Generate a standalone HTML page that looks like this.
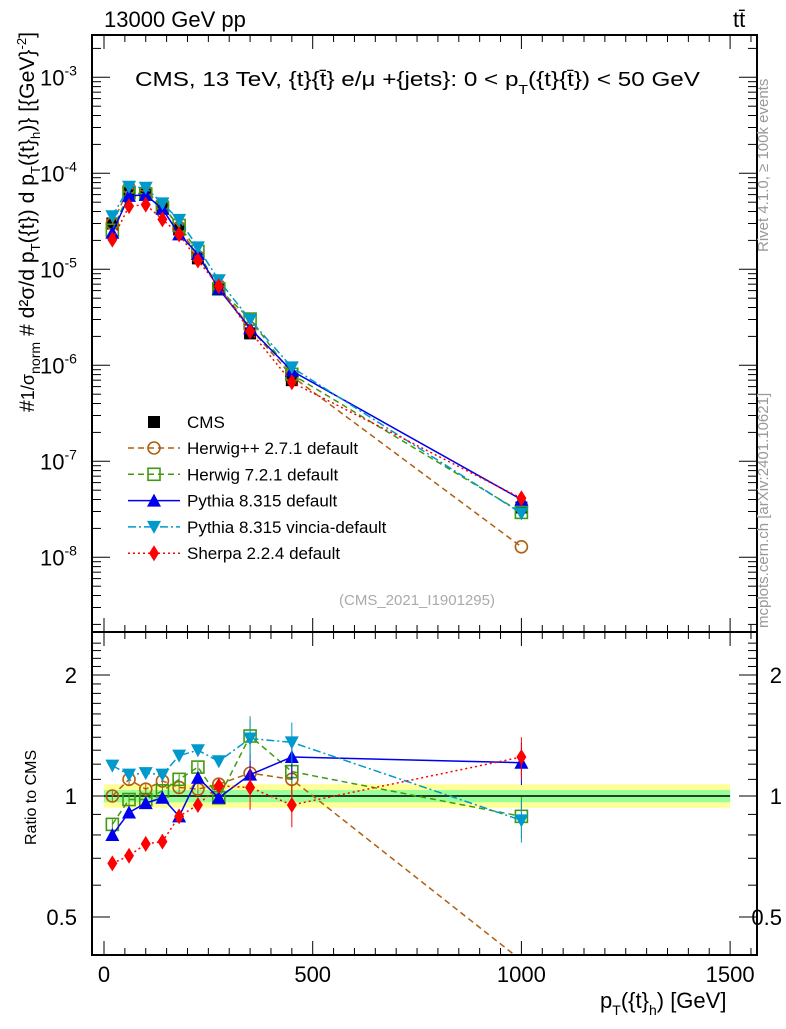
<!DOCTYPE html>
<html><head><meta charset="utf-8"><style>
body{margin:0;background:#fff;width:786px;height:1024px;overflow:hidden}
svg text{font-family:"Liberation Sans",sans-serif}
</style></head><body>
<svg id="c" width="786" height="1024" xmlns="http://www.w3.org/2000/svg"></svg>
<script>
const xCenters=[20,60,100,140,180,225,275,350,450,1000];
const cmsVals=[3.0e-5,6.4e-5,6.2e-5,4.3e-5,2.6e-5,1.3e-5,6.3e-6,2.15e-6,7.0e-7,3.3e-8];
const herwigppRatio=[1.00,1.10,1.04,1.09,1.05,1.04,1.07,1.14,1.10,0.39];
const herwig7Ratio=[0.85,0.98,0.98,1.03,1.10,1.18,0.99,1.41,1.15,0.89];
const pythiaRatio=[0.80,0.91,0.96,0.99,0.89,1.11,0.99,1.13,1.25,1.21];
const vinciaRatio=[1.19,1.13,1.14,1.13,1.26,1.30,1.22,1.39,1.36,0.87];
const sherpaRatio=[0.68,0.71,0.76,0.77,0.89,0.95,1.06,1.05,0.95,1.25];
const xTicks=[0,500,1000,1500];
const mainTicks=[-3,-4,-5,-6,-7,-8];
const ratioTicks=[0.5,1,2];
const legendLabels=["Herwig++ 2.7.1 default","Herwig 7.2.1 default","Pythia 8.315 default","Pythia 8.315 vincia-default","Sherpa 2.2.4 default"];

const L=92,R=757,T=35,MB=632,RB=955;
const X=v=>104+v*0.4174;
const Y=v=>173.3-96*(Math.log10(v)+4);
const YR=r=>796-402*Math.log10(r);
const NS="http://www.w3.org/2000/svg";
const svg=document.getElementById('c');
function mk(tag,attrs,parent){const e=document.createElementNS(NS,tag);for(const k in attrs)e.setAttribute(k,attrs[k]);(parent||svg).appendChild(e);return e;}
function txt(s,x,y,attrs,parent){const e=mk('text',Object.assign({x:x,y:y,'font-size':20},attrs||{}),parent);e.textContent=s;return e;}
function ts(parent,s,attrs){const e=mk('tspan',attrs||{},parent);e.textContent=s;return e;}

let band=mk('rect',{x:X(0),y:YR(1.07),width:X(1500)-X(0),height:YR(0.935)-YR(1.07),fill:'#ffff99'});

let band2=mk('rect',{x:X(0),y:YR(1.035),width:X(1500)-X(0),height:YR(0.965)-YR(1.035),fill:'#99ff99'});

let one=mk('line',{x1:X(0),x2:X(1500),y1:YR(1),y2:YR(1),stroke:'#000','stroke-width':1.5});


let f1=mk('rect',{x:L,y:T,width:R-L,height:MB-T,fill:'none',stroke:'#000','stroke-width':2});

let f2=mk('rect',{x:L,y:MB,width:R-L,height:RB-MB,fill:'none',stroke:'#000','stroke-width':2});


for(let v=0;v<=1550;v+=50){const big=v%500===0;const x=X(v);if(x<L||x>R)continue;
 for(const [a,b] of [[T,MB],[MB,RB]]){
  mk('line',{x1:x,x2:x,y1:b,y2:b-(big?14:7),stroke:'#000'});
  mk('line',{x1:x,x2:x,y1:a,y2:a+(big?14:7),stroke:'#000'});}}
xTicks.forEach(v=>{const t=txt(String(v),X(v),982,{'text-anchor':'middle','font-size':22});
 });
for(let d=-9;d<=-3;d++){for(let m=1;m<10;m++){const y=Y(m*Math.pow(10,d));if(y<T||y>MB)continue;
 const w=m===1?18:9;mk('line',{x1:L,x2:L+w,y1:y,y2:y,stroke:'#000'});mk('line',{x1:R,x2:R-w,y1:y,y2:y,stroke:'#000'});}}
mainTicks.forEach(d=>{const t=txt('10',40,Y(Math.pow(10,d))+8,{'font-size':22});
 
 ts(t,String(d),{dy:-10,'font-size':14});});
for(let r=0.4;r<=2.41;r+=0.1){const y=YR(r);if(y<MB||y>RB)continue;const big=Math.abs(r-0.5)<1e-6||Math.abs(r-1)<1e-6||Math.abs(r-2)<1e-6;
 const w=big?18:9;mk('line',{x1:L,x2:L+w,y1:y,y2:y,stroke:'#000'});mk('line',{x1:R,x2:R-w,y1:y,y2:y,stroke:'#000'});}
ratioTicks.forEach(r=>{const t1=txt(String(r),77,YR(r)+8,{'text-anchor':'end','font-size':22});
 
 const t2=txt(String(r),782,YR(r)+8,{'text-anchor':'end','font-size':22});
 });

const series=[
 {r:herwigppRatio,c:'#b05f10',d:'6,4',m:'circle',n:'herwigpp'},
 {r:herwig7Ratio,c:'#3f9a10',d:'6,4',m:'square',n:'herwig7'},
 {r:pythiaRatio,c:'#0000ee',d:'',m:'tri-up',n:'pythia'},
 {r:vinciaRatio,c:'#0099cc',d:'8,3,2,3',m:'tri-down',n:'vincia'},
 {r:sherpaRatio,c:'#ff0000',d:'2,3',m:'diamond',n:'sherpa'}];
function marker(type,x,y,c,g){
 if(type==='circle')return mk('circle',{cx:x,cy:y,r:6,fill:'none',stroke:c,'stroke-width':1.6},g);
 if(type==='square')return mk('rect',{x:x-6,y:y-6,width:12,height:12,fill:'none',stroke:c,'stroke-width':1.6},g);
 if(type==='tri-up')return mk('polygon',{points:`${x},${y-7} ${x-7},${y+6} ${x+7},${y+6}`,fill:c},g);
 if(type==='tri-down')return mk('polygon',{points:`${x},${y+7} ${x-7},${y-6} ${x+7},${y-6}`,fill:c},g);
 if(type==='diamond')return mk('polygon',{points:`${x},${y-8} ${x-5},${y} ${x},${y+8} ${x+5},${y}`,fill:c},g);
 if(type==='sq-fill')return mk('rect',{x:x-6,y:y-6,width:12,height:12,fill:c},g);}
const cg=mk('g',{});
series.forEach(s=>{
 const g=mk('g',{});
 const pm=xCenters.map((x,i)=>`${X(x)},${Y(cmsVals[i]*s.r[i])}`).join(' ');
 mk('polyline',{points:pm,fill:'none',stroke:s.c,'stroke-width':1.5,'stroke-dasharray':s.d},g);
 xCenters.forEach((x,i)=>marker(s.m,X(x),Y(cmsVals[i]*s.r[i]),s.c,g));
 const gr=mk('g',{});
 const pr=xCenters.map((x,i)=>`${X(x)},${YR(s.r[i])}`).join(' ');
 const cp=mk('clipPath',{id:'cp'+s.n},gr);mk('rect',{x:L,y:MB,width:R-L,height:RB-MB},cp);
 mk('polyline',{points:pr,fill:'none',stroke:s.c,'stroke-width':1.5,'stroke-dasharray':s.d,'clip-path':`url(#cp${s.n})`},gr);
 xCenters.forEach((x,i)=>{const y=YR(s.r[i]);if(y>RB||y<MB)return;
  const e=(i>=7?0.12:0.03)*s.r[i];mk('line',{x1:X(x),x2:X(x),y1:YR(s.r[i]+e),y2:YR(s.r[i]-e),stroke:s.c},gr);
  marker(s.m,X(x),y,s.c,gr);});
});
xCenters.forEach((x,i)=>marker('sq-fill',X(x),Y(cmsVals[i]),'#000',cg));

const lg=mk('g',{});
const ce=mk('g',{},lg);
marker('sq-fill',154,422,'#000',ce);txt('CMS',187,428,{'font-size':17},ce);
legendLabels.forEach((lab,i)=>{const y=448+i*26.3;const s=series[i];
 const e=mk('g',{},lg);
 mk('line',{x1:128,x2:180,y1:y,y2:y,stroke:s.c,'stroke-width':1.5,'stroke-dasharray':s.d},e);
 marker(s.m,154,y,s.c,e);
 txt(lab,187,y+6,{'font-size':17},e);});

let t;
t=txt('13000 GeV pp',104,27,{'font-size':22});
t=txt('tt̄',733,27,{'font-size':22});
t=mk('text',{x:135,y:86,'font-size':20,textLength:565,lengthAdjust:'spacingAndGlyphs'});
ts(t,'CMS, 13 TeV, {t}{t̄} e/μ +{jets}: 0 <  p');ts(t,'T',{dy:8,'font-size':13});ts(t,'({t}{t̄}) < 50 GeV',{dy:-8});
t=txt('(CMS_2021_I1901295)',417,605,{'font-size':15,'text-anchor':'middle',fill:'#aaa'});
t=txt('Ratio to CMS',0,0,{'font-size':16,transform:'translate(36,845) rotate(-90)'});
t=mk('text',{x:600,y:1008,'font-size':22});
ts(t,'p');ts(t,'T',{dy:7,'font-size':14});ts(t,'({t}',{dy:-7});ts(t,'h',{dy:7,'font-size':14});ts(t,') [GeV]',{dy:-7});
t=mk('text',{'font-size':21,transform:'translate(34,412) rotate(-90)',textLength:380,lengthAdjust:'spacingAndGlyphs'});
ts(t,'#');ts(t,'1/σ',{'font-size':18});ts(t,'norm',{dy:6,'font-size':14});ts(t,' # d²σ/d p',{dy:-6});ts(t,'T',{dy:6,'font-size':13});ts(t,'({t}) d p',{dy:-6});ts(t,'T',{dy:6,'font-size':13});ts(t,'({t}',{dy:-6});ts(t,'h',{dy:6,'font-size':13});ts(t,')} [{GeV}',{dy:-6});ts(t,'-2',{dy:-8,'font-size':13});ts(t,']',{dy:8});
t=txt('Rivet 4.1.0, ≥ 100k events',0,0,{'font-size':15,fill:'#999',transform:'translate(768,252) rotate(-90)'});
t=txt('mcplots.cern.ch [arXiv:2401.10621]',0,0,{'font-size':15,fill:'#999',transform:'translate(768,628) rotate(-90)'});
</script>
</body></html>
